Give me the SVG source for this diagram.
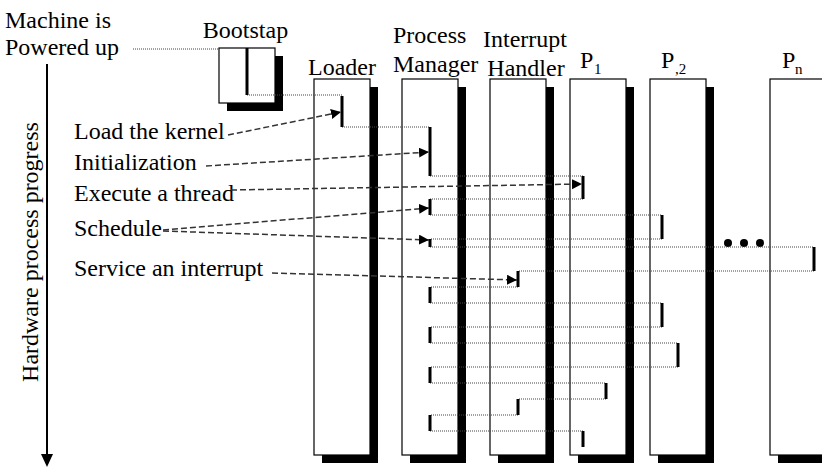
<svg xmlns="http://www.w3.org/2000/svg" width="822" height="468" viewBox="0 0 822 468">
  <defs>
    <marker id="head" markerUnits="userSpaceOnUse" markerWidth="11" markerHeight="11" refX="10" refY="5" orient="auto">
      <path d="M0,0 L10,5 L0,10 z" fill="#000"/>
    </marker>
  </defs>
  <style>
    text { font-family: "Liberation Serif", "Times New Roman", serif; font-size: 24px; fill: #000; }
    .sub { font-size: 15px; }
    .mid { text-anchor: middle; }
    .box { fill: #fff; stroke: #000; stroke-width: 1.2; }
    .shadow { fill: #000; }
    .bar { stroke: #000; stroke-width: 3; fill: none; }
    .dot { stroke: #444; stroke-width: 1; stroke-dasharray: 1 1; fill: none; }
    .dash { stroke: #333; stroke-width: 1.5; stroke-dasharray: 6 3; fill: none; marker-end: url(#head); }
  </style>

  <rect width="822" height="468" fill="#fff"/>

  <!-- start label -->
  <g id="power-on">
    <text x="5" y="28">Machine is</text>
    <text x="5" y="55">Powered up</text>
  </g>

  <!-- bootstrap box -->
  <g id="bootstap">
    <text class="mid" x="245.5" y="38">Bootstap</text>
    <rect class="shadow" x="227" y="56" width="56" height="55"/>
    <rect class="box" x="219" y="48" width="56" height="55"/>
  </g>

  <!-- process columns -->
  <g id="loader">
    <text class="mid" x="342" y="75">Loader</text>
    <rect class="shadow" x="322" y="87" width="56" height="376"/>
    <rect class="box" x="314" y="79" width="56" height="376"/>
  </g>
  <g id="process-manager">
    <text x="393" y="43">Process</text>
    <text x="393" y="72">Manager</text>
    <rect class="shadow" x="410" y="87" width="56" height="376"/>
    <rect class="box" x="402" y="79" width="56" height="376"/>
  </g>
  <g id="interrupt-handler">
    <text class="mid" x="525" y="47">Interrupt</text>
    <text class="mid" x="526" y="76">Handler</text>
    <rect class="shadow" x="498" y="87" width="56" height="376"/>
    <rect class="box" x="490" y="79" width="56" height="376"/>
  </g>
  <g id="p1">
    <text x="580" y="68">P<tspan class="sub" x="594" y="74">1</tspan></text>
    <rect class="shadow" x="578" y="87" width="56" height="376"/>
    <rect class="box" x="570" y="79" width="56" height="376"/>
  </g>
  <g id="p2">
    <text x="661" y="68">P<tspan class="sub" x="675" y="74">,2</tspan></text>
    <rect class="shadow" x="658" y="87" width="56" height="376"/>
    <rect class="box" x="650" y="79" width="56" height="376"/>
  </g>
  <g id="pn">
    <text x="782" y="68">P<tspan class="sub" x="795" y="74">n</tspan></text>
    <rect class="shadow" x="778" y="87" width="56" height="376"/>
    <rect class="box" x="770" y="79" width="56" height="376"/>
  </g>

  <!-- ellipsis between P2 and Pn -->
  <g id="more" fill="#000">
    <circle cx="728" cy="243" r="4"/>
    <circle cx="744" cy="243" r="4"/>
    <circle cx="760" cy="243" r="4"/>
  </g>

  <!-- event labels -->
  <g id="events">
    <text x="74" y="139">Load the kernel</text>
    <text x="74" y="170">Initialization</text>
    <text x="74" y="201">Execute a thread</text>
    <text x="74" y="236">Schedule</text>
    <text x="74" y="276">Service an interrupt</text>
  </g>

  <!-- time axis -->
  <g id="axis">
    <line x1="47" y1="64" x2="47" y2="456" stroke="#000" stroke-width="2"/>
    <polygon points="41,454 53,454 47,467" fill="#000"/>
    <text class="mid" transform="translate(38,252) rotate(-90)">Hardware process progress</text>
  </g>

  <g id="connectors">
    <!-- control hand-offs -->
    <path class="dot" d="M133,49 H219
      M247,95 H342 M342,127 H430 M430,176 H583 M583,199 H430
      M430,215 H662 M662,239 H430 M430,247 H814 M814,271 H518
      M518,287 H430 M430,303 H662 M662,327 H430 M430,343 H678
      M678,367 H430 M430,383 H606 M606,399 H518 M518,415 H430
      M430,431 H583"/>
    <!-- execution spans -->
    <path class="bar" stroke-width="2" d="M247,48 V95"/>
    <path class="bar" d="M342,96 V127 M430,127 V176 M583,176 V199 M430,199 V215
      M662,215 V239 M430,239 V247 M814,247 V271 M518,271 V287
      M430,287 V303 M662,303 V327 M430,327 V343 M678,343 V367
      M430,367 V383 M606,383 V399 M518,399 V415 M430,415 V431
      M583,431 V447"/>
    <!-- event pointers -->
    <path class="dash" d="M228,135 L341,112"/>
    <path class="dash" d="M206,166 L429,152"/>
    <path class="dash" d="M231,190 L582,184"/>
    <path class="dash" d="M163,230 L429,208"/>
    <path class="dash" d="M163,231 L429,240"/>
    <path class="dash" d="M272,273 L517,280"/>
  </g>
</svg>
